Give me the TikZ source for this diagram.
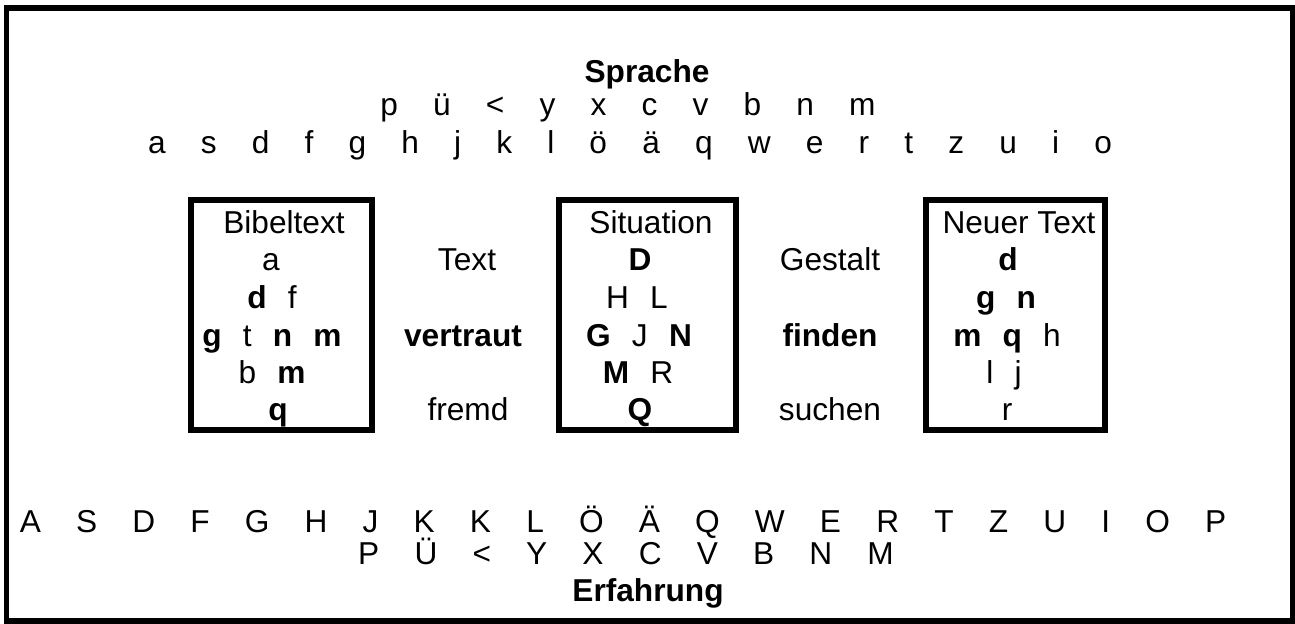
\documentclass[tikz,border=0pt]{standalone}
\usepackage{fontspec}
\setmainfont{Liberation Sans}
\newcommand{\gap}{\hspace{0.67em}}
\newcommand{\wide}{\ \ \ \ }
\tikzset{
  word/.style={anchor=base, inner sep=0pt, font=\fontsize{9}{11}\selectfont},
  frame/.style={draw, line width=1.5pt, inner sep=0pt, minimum height=2.30cm}
}
\begin{document}
\begin{tikzpicture}[x=0.01cm, y=-0.01cm]
  \useasboundingbox (0,0) rectangle (1295,623);
  \draw[line width=1.7pt] (6.5,8) rectangle (1293,621);
  % the three boxes
  \node[frame, minimum width=1.81cm] (bibel) at (281.5,315) {};
  \node[frame, minimum width=1.77cm] (situ) at (647.5,315) {};
  \node[frame, minimum width=1.79cm] (neu) at (1015.5,315) {};
  % Sprache, keyboard rows
  \node[word] (sprache) at (647,82) {\textbf{Sprache}};
  \node[word] (low1) at (628,115) {p\wide ü\wide <\wide y\wide x\wide c\wide v\wide b\wide n\wide m};
  \node[word] (low2) at (630,153) {a\wide s\wide d\wide f\wide g\wide h\wide j\wide k\wide l\wide ö\wide ä\wide q\wide w\wide e\wide r\wide t\wide z\wide u\wide i\wide o};
  % Bibeltext
  \node[word] (b0) at (284,233) {Bibeltext};
  \node[word] (b1) at (271,270) {a};
  \node[word] (b2) at (272,308) {\textbf{d}\gap f};
  \node[word] (b3) at (272,346) {\textbf{g}\gap t\gap\textbf{n}\gap\textbf{m}};
  \node[word] (b4) at (272,383) {b\gap\textbf{m}};
  \node[word] (b5) at (278,420) {\textbf{q}};
  \node[word] (text) at (467,270) {Text};
  \node[word] (vertraut) at (463,346) {\textbf{vertraut}};
  \node[word] (fremd) at (468,420) {fremd};
  % Situation
  \node[word] (s0) at (651,233) {Situation};
  \node[word] (s1) at (640,270) {\textbf{D}};
  \node[word] (s2) at (637,308) {H\gap L};
  \node[word] (s3) at (639,346) {\textbf{G}\gap J\gap\textbf{N}};
  \node[word] (s4) at (638,383) {\textbf{M}\gap R};
  \node[word] (s5) at (640,420) {\textbf{Q}};
  \node[word] (gestalt) at (830,270) {Gestalt};
  \node[word] (finden) at (830,346) {\textbf{finden}};
  \node[word] (suchen) at (830,420) {suchen};
  % Neuer Text
  \node[word] (n0) at (1019,233) {Neuer Text};
  \node[word] (n1) at (1008,270) {\textbf{d}};
  \node[word] (n2) at (1006,308) {\textbf{g}\gap\textbf{n}};
  \node[word] (n3) at (1007,346) {\textbf{m}\gap\textbf{q}\gap h};
  \node[word] (n4) at (1004,383) {l\gap j};
  \node[word] (n5) at (1007,420) {r};
  % Erfahrung, upper case rows
  \node[word] (up1) at (623,532) {A\wide S\wide D\wide F\wide G\wide H\wide J\wide K\wide K\wide L\wide Ö\wide Ä\wide Q\wide W\wide E\wide R\wide T\wide Z\wide U\wide I\wide O\wide P};
  \node[word] (up2) at (626,564) {P\wide Ü\wide <\wide Y\wide X\wide C\wide V\wide B\wide N\wide M};
  \node[word] (erfahrung) at (648,601) {\textbf{Erfahrung}};
\end{tikzpicture}
\end{document}
